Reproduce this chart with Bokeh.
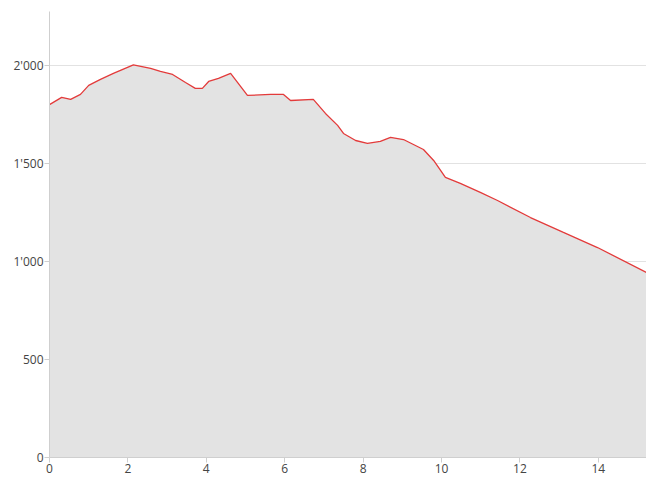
from bokeh.plotting import figure
from bokeh.models import FixedTicker, Range1d
from bokeh.embed import file_html
from bokeh.resources import INLINE

# distance (km) and elevation (m)
distance = [0.0, 0.31, 0.54, 0.79, 1.0, 1.30, 1.63, 2.14, 2.58, 2.83, 3.14, 3.47, 3.72, 3.90,
            4.06, 4.31, 4.62, 5.05, 5.64, 5.97, 6.15, 6.73, 7.04, 7.35, 7.50, 7.81, 8.11,
            8.44, 8.70, 9.03, 9.54, 9.80, 10.10, 10.48, 10.99, 11.43, 12.27, 13.11, 13.98, 15.23]
elevation = [1800, 1837, 1827, 1852, 1898, 1929, 1959, 2003, 1985, 1969, 1954, 1913, 1883, 1883,
             1918, 1934, 1959, 1847, 1852, 1852, 1821, 1827, 1755, 1694, 1653, 1617, 1602,
             1612, 1633, 1622, 1571, 1515, 1429, 1398, 1352, 1311, 1224, 1148, 1071, 944]

x_ticks = [0, 2, 4, 6, 8, 10, 12, 14]
y_ticks = [0, 500, 1000, 1500, 2000]
y_tick_labels = ["0", "500", "1'000", "1'500", "2'000"]

FONT = "Open Sans"
TEXT = "#444444"

p = figure(width=646, height=477, output_backend="svg", toolbar_location=None,
           x_range=Range1d(0, 15.23), y_range=Range1d(0, 2275),
           min_border_left=49, min_border_right=0, min_border_top=11, min_border_bottom=20)
p.outline_line_color = None
p.background_fill_color = "white"

p.varea(x=distance, y1=0, y2=elevation, fill_color="#e3e3e3")
p.line(distance, elevation, line_color="#e33b3b", line_width=1.3)

p.xgrid.grid_line_color = None
p.ygrid.grid_line_color = "#e2e2e2"
p.ygrid.ticker = FixedTicker(ticks=y_ticks)

p.xaxis.ticker = FixedTicker(ticks=x_ticks)
p.yaxis.ticker = FixedTicker(ticks=y_ticks)
p.yaxis.major_label_overrides = {t: l for t, l in zip(y_ticks, y_tick_labels)}

for ax in (p.xaxis[0], p.yaxis[0]):
    ax.axis_line_color = "#cfcfcf"
    ax.major_tick_line_color = "#cfcfcf"
    ax.minor_tick_line_color = None
    ax.major_tick_in = 0
    ax.major_tick_out = 5
    ax.major_label_text_font = FONT
    ax.major_label_text_font_size = "12px"
    ax.major_label_text_color = TEXT
    ax.major_label_standoff = 1

open("out.html", "w").write(file_html(p, INLINE))
